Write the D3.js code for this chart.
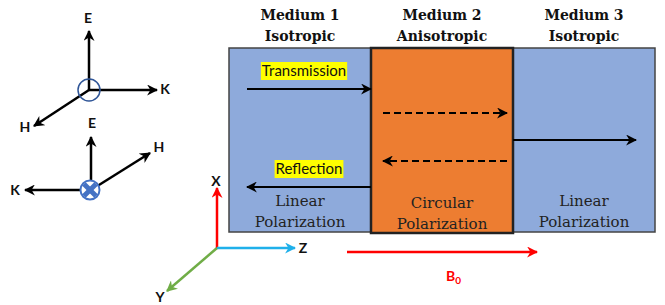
<!DOCTYPE html>
<html>
<head>
<meta charset="utf-8">
<script src="https://cdn.jsdelivr.net/npm/d3@7"></script>
<style>
  body { margin: 0; background: #fff; }
  svg { display: block; }
  .serif { font-family: "DejaVu Serif", serif; }
  .sans { font-family: Lato, "Open Sans", sans-serif; }
</style>
</head>
<body>
<svg id="chart" width="665" height="305"></svg>
<script>
// media, left to right
const media = ["Medium 1", "Medium 2", "Medium 3"]
const mediaTypes = ["Isotropic", "Anisotropic", "Isotropic"]
const polarization = [["Linear", "Polarization"], ["Circular", "Polarization"], ["Linear", "Polarization"]]
// wave paths: medium index, direction (+1 forward, -1 back), dashed
const waves = [
  { medium: 0, dir: 1, dashed: false, label: "Transmission", row: 0 },
  { medium: 1, dir: 1, dashed: true, label: "", row: 1 },
  { medium: 2, dir: 1, dashed: false, label: "", row: 2 },
  { medium: 1, dir: -1, dashed: true, label: "", row: 3 },
  { medium: 0, dir: -1, dashed: false, label: "Reflection", row: 4 }
]
const rowY = [89, 113, 140, 161, 187]

const svg = d3.select("#chart")

defs = svg.append("defs")
function marker(id, color) {
  defs.append("marker")
    .attr("id", id)
    .attr("viewBox", "0 0 10 10")
    .attr("refX", 9).attr("refY", 5)
    .attr("markerWidth", 11).attr("markerHeight", 11)
    .attr("markerUnits", "userSpaceOnUse")
    .attr("orient", "auto")
    .append("path")
    .attr("d", "M0,0 L10,5 L0,10 L3,5 Z")
    .attr("fill", color)
}
marker("ab", "#000")
marker("ar", "#ff0000")
marker("abl", "#1fb0ea")
marker("ag", "#70ad47")

const x = d3.scaleBand().domain(media).range([229, 655]).padding(0)
const fills = ["#8eaadb", "#ed7d31", "#8eaadb"]

// boxes
svg.selectAll("rect.medium")
  .data(media)
  .join("rect")
  .attr("class", "medium")
  .attr("x", d => x(d))
  .attr("y", 48)
  .attr("width", x.bandwidth())
  .attr("height", (d, i) => i == 1 ? 185 : 184)
  .attr("fill", (d, i) => fills[i])
  .attr("stroke", (d, i) => i == 1 ? "#222" : "#444")
  .attr("stroke-width", (d, i) => i == 1 ? 2.5 : 1.5)
// keep the orange box on top
svg.selectAll("rect.medium").filter((d, i) => i == 1).raise()

// headers
const head = svg.selectAll("text.head")
  .data(media)
  .join("text")
  .attr("class", "serif")
  .attr("text-anchor", "middle")
  .attr("font-weight", "bold")
  .attr("font-size", 14)
  .attr("fill", "#111")
head.append("tspan").attr("x", d => x(d) + x.bandwidth() / 2).attr("y", 20).text(d => d)
head.append("tspan").attr("x", d => x(d) + x.bandwidth() / 2).attr("y", 41).text((d, i) => mediaTypes[i])

// polarization text
media.forEach((m, i) => {
  const cx = x(m) + x.bandwidth() / 2
  const y0 = i == 1 ? 208 : 206
  svg.append("text")
    .attr("class", "serif")
    .attr("text-anchor", "middle")
    .attr("font-size", 15)
    .attr("fill", "#222")
    .selectAll("tspan")
    .data(polarization[i])
    .join("tspan")
    .attr("x", cx)
    .attr("y", (d, j) => y0 + j * 21)
    .text(d => d)
})

// waves
waves.forEach(w => {
  const m = media[w.medium]
  let x0, x1
  if (w.medium == 0) { x0 = 247; x1 = x(m) + x.bandwidth() }
  else if (w.medium == 1) { x0 = x(m) + 12; x1 = x(m) + x.bandwidth() - 6 }
  else { x0 = x(m); x1 = 636 }
  const a = w.dir > 0 ? x0 : x1
  const b = w.dir > 0 ? x1 : x0
  svg.append("line")
    .attr("x1", a).attr("x2", b)
    .attr("y1", rowY[w.row]).attr("y2", rowY[w.row])
    .attr("stroke", "#000")
    .attr("stroke-width", 2)
    .attr("stroke-dasharray", w.dashed ? "7,4" : null)
    .attr("marker-end", "url(#ab)")
  if (w.label) {
    const t = svg.append("text")
      .attr("class", "sans")
      .attr("x", (247 + 371) / 2 + (w.dir > 0 ? -5 : 0))
      .attr("y", rowY[w.row] - 13)
      .attr("text-anchor", "middle")
      .attr("font-size", 15)
      .attr("fill", "#111")
      .text(w.label)
    const bb = t.node().getBBox()
    svg.insert("rect", () => t.node())
      .attr("x", bb.x - 1).attr("y", bb.y + 1)
      .attr("width", bb.width + 2).attr("height", bb.height)
      .attr("fill", "#ffff00")
  }
})

// coordinate axes
const origin = [217, 248]
const coordAxes = [
  { name: "X", to: [217, 188], color: "#ff0000", m: "ar", lx: 216, ly: 182 },
  { name: "Z", to: [295, 248], color: "#1fb0ea", m: "abl", lx: 303, ly: 249 },
  { name: "Y", to: [167, 291], color: "#70ad47", m: "ag", lx: 160, ly: 298 }
]
coordAxes.forEach(a => {
  svg.append("line")
    .attr("x1", origin[0]).attr("y1", origin[1])
    .attr("x2", a.to[0]).attr("y2", a.to[1])
    .attr("stroke", a.color).attr("stroke-width", 2.5)
    .attr("marker-end", `url(#${a.m})`)
  svg.append("text").attr("class", "sans")
    .attr("x", a.lx).attr("y", a.ly)
    .attr("dominant-baseline", "middle")
    .attr("text-anchor", "middle")
    .attr("font-size", 14).attr("font-weight", "bold").attr("fill", "#111")
    .text(a.name)
})

// B0
svg.append("line")
  .attr("x1", 347).attr("x2", 537).attr("y1", 252).attr("y2", 252)
  .attr("stroke", "#ff0000").attr("stroke-width", 2.5)
  .attr("marker-end", "url(#ar)")
const b0 = svg.append("text").attr("class", "sans")
  .attr("x", 446).attr("y", 281)
  .attr("font-size", 14).attr("font-weight", "bold").attr("fill", "#ff0000")
b0.append("tspan").text("B")
b0.append("tspan").attr("font-size", 10).attr("dy", 3).text("0")

// field triads: E up, K along, H oblique
const triads = [
  { o: [89, 90], E: [89, 31], K: [157, 90], H: [34, 126], el: [88, 19], kl: [165, 90], hl: [25, 128], into: false },
  { o: [91, 190], E: [91, 137], K: [25, 190], H: [150, 153], el: [92, 124], kl: [15, 191], hl: [159, 148], into: true }
]
triads.forEach(t => {
  ["E", "K", "H"].forEach(k => {
    svg.append("line")
      .attr("x1", t.o[0]).attr("y1", t.o[1])
      .attr("x2", t[k][0]).attr("y2", t[k][1])
      .attr("stroke", "#000").attr("stroke-width", 2.5)
      .attr("marker-end", "url(#ab)")
    const l = t[k.toLowerCase() + "l"]
    svg.append("text").attr("class", "sans")
      .attr("x", l[0]).attr("y", l[1])
      .attr("dominant-baseline", "middle").attr("text-anchor", "middle")
      .attr("font-size", 14).attr("font-weight", "bold").attr("fill", "#111")
      .text(k)
  })
  if (t.into) {
    svg.append("circle").attr("cx", t.o[0] - 1).attr("cy", t.o[1])
      .attr("r", 9.5).attr("fill", "#fff").attr("stroke", "#4472c4").attr("stroke-width", 2)
    const r = 6
    ;[[-1, -1, 1, 1], [-1, 1, 1, -1]].forEach(s => {
      svg.append("line")
        .attr("x1", t.o[0] - 1 + s[0] * r).attr("y1", t.o[1] + s[1] * r)
        .attr("x2", t.o[0] - 1 + s[2] * r).attr("y2", t.o[1] + s[3] * r)
        .attr("stroke", "#4472c4").attr("stroke-width", 5)
    })
  } else {
    svg.append("circle").attr("cx", t.o[0]).attr("cy", t.o[1])
      .attr("r", 11).attr("fill", "none").attr("stroke", "#2f5597").attr("stroke-width", 1.5)
  }
})
</script>
</body>
</html>
